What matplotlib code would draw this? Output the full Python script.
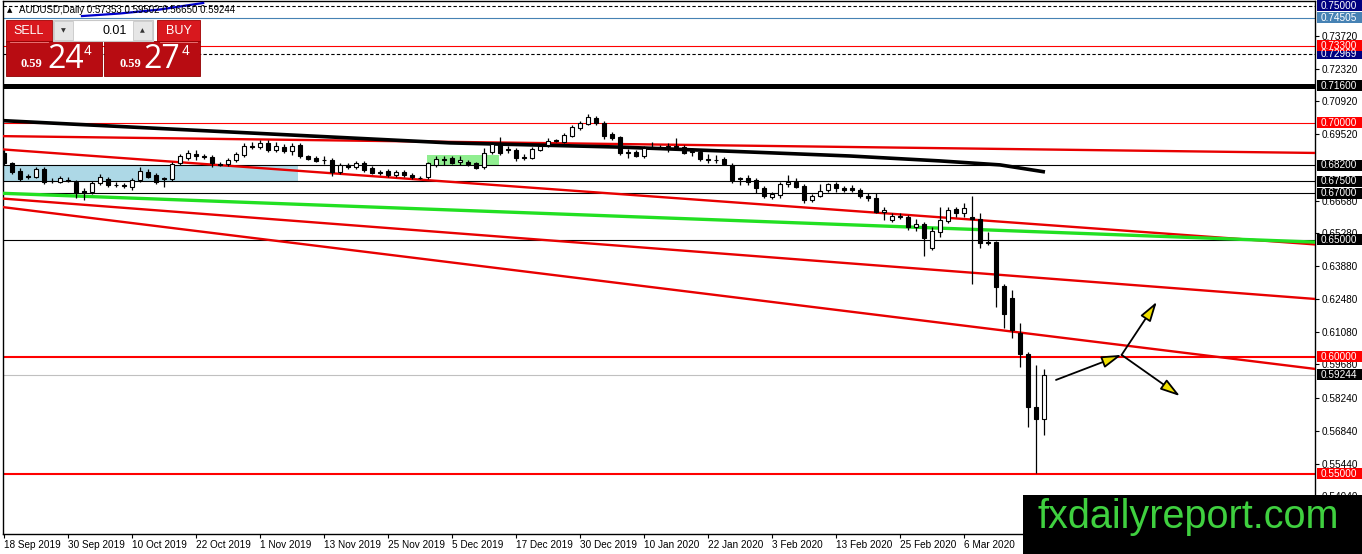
import matplotlib
matplotlib.use("Agg")
import matplotlib.pyplot as plt
from matplotlib.patches import Rectangle, FancyArrowPatch
from matplotlib.transforms import blended_transform_factory
import numpy as np

# ---------------- data ----------------
opens = [0.6871,0.6830,0.6796,0.6772,0.6771,0.6803,0.6754,0.6749,0.6758,0.6749,
         0.6711,0.6706,0.6742,0.6759,0.6737,0.6733,0.6725,0.6756,0.6792,0.6778,
         0.6763,0.6759,0.6828,0.6849,0.6868,0.6859,0.6853,0.6826,0.6824,0.6842,
         0.6863,0.6901,0.6896,0.6916,0.6885,0.6899,0.6882,0.6906,0.6857,0.6849,
         0.6844,0.6842,0.6790,0.6821,0.6811,0.6830,0.6807,0.6790,0.6795,0.6778,
         0.6792,0.6778,0.6767,0.6768,0.6821,0.6848,0.6849,0.6833,0.6835,0.6828,
         0.6811,0.6876,0.6906,0.6887,0.6885,0.6855,0.6852,0.6885,0.6906,0.6926,
         0.6920,0.6946,0.6977,0.6996,0.7020,0.6999,0.6953,0.6941,0.6875,0.6876,
         0.6857,0.6897,0.6898,0.6899,0.6901,0.6896,0.6879,0.6877,0.6847,0.6844,
         0.6846,0.6821,0.6763,0.6764,0.6756,0.6721,0.6682,0.6692,0.6739,0.6749,
         0.6731,0.6671,0.6688,0.6714,0.6739,0.6722,0.6721,0.6714,0.6689,0.6678,
         0.6618,0.6585,0.6604,0.6597,0.6557,0.6567,0.6465,0.6535,0.6581,0.6631,
         0.6614,0.6597,0.6589,0.6490,0.6490,0.6303,0.6251,0.6101,0.6013,0.5785,
         0.57353]
highs = [0.6885,0.6835,0.6808,0.6782,0.6812,0.6812,0.6765,0.6774,0.6769,0.6756,
         0.6722,0.6752,0.6782,0.6769,0.6748,0.6744,0.6765,0.6812,0.6803,0.6786,
         0.6771,0.6833,0.6868,0.6885,0.6885,0.6868,0.6863,0.6833,0.6850,0.6876,
         0.6915,0.6920,0.6927,0.6927,0.6920,0.6910,0.6913,0.6915,0.6863,0.6859,
         0.6857,0.6850,0.6829,0.6829,0.6839,0.6838,0.6816,0.6799,0.6803,0.6799,
         0.6799,0.6786,0.6774,0.6835,0.6859,0.6857,0.6859,0.6857,0.6842,0.6833,
         0.6892,0.6919,0.6939,0.6902,0.6893,0.6868,0.6897,0.6910,0.6935,0.6932,
         0.6957,0.6991,0.7009,0.7038,0.7030,0.7009,0.6962,0.6944,0.6888,0.6885,
         0.6902,0.6920,0.6906,0.6916,0.6935,0.6906,0.6892,0.6885,0.6868,0.6863,
         0.6855,0.6829,0.6768,0.6778,0.6765,0.6731,0.6705,0.6748,0.6778,0.6764,
         0.6739,0.6697,0.6739,0.6745,0.6748,0.6731,0.6735,0.6722,0.6702,0.6700,
         0.6642,0.6614,0.6614,0.6607,0.6588,0.6577,0.6557,0.6642,0.6642,0.6642,
         0.6659,0.6689,0.6614,0.6535,0.6496,0.6312,0.6286,0.6147,0.6023,0.5966,
         0.59502]
lows = [0.6821,0.6782,0.6752,0.6761,0.6765,0.6739,0.6744,0.6744,0.6748,0.6679,
        0.6671,0.6697,0.6735,0.6727,0.6727,0.6722,0.6714,0.6748,0.6765,0.6739,
        0.6725,0.6752,0.6821,0.6842,0.6842,0.6846,0.6812,0.6816,0.6816,0.6833,
        0.6855,0.6889,0.6889,0.6876,0.6876,0.6872,0.6863,0.6849,0.6842,0.6833,
        0.6825,0.6774,0.6782,0.6803,0.6803,0.6791,0.6782,0.6778,0.6769,0.6769,
        0.6769,0.6761,0.6759,0.6761,0.6812,0.6821,0.6825,0.6821,0.6816,0.6803,
        0.6803,0.6868,0.6863,0.6871,0.6839,0.6842,0.6846,0.6879,0.6896,0.6917,
        0.6915,0.6940,0.6970,0.6991,0.6991,0.6930,0.6927,0.6863,0.6849,0.6855,
        0.6850,0.6889,0.6889,0.6877,0.6892,0.6868,0.6857,0.6838,0.6828,0.6828,
        0.6821,0.6742,0.6735,0.6735,0.6702,0.6678,0.6675,0.6678,0.6728,0.6722,
        0.6659,0.6662,0.6684,0.6705,0.6706,0.6705,0.6705,0.6678,0.6668,0.6615,
        0.6585,0.6577,0.6588,0.6543,0.6540,0.6433,0.6457,0.6512,0.6574,0.6600,
        0.6600,0.6311,0.6465,0.6479,0.6212,0.6124,0.6080,0.5959,0.5700,0.5503,
        0.56650]
closes = [0.6828,0.6792,0.6761,0.6768,0.6803,0.6749,0.6750,0.6764,0.6754,0.6700,
          0.6702,0.6742,0.6771,0.6735,0.6733,0.6729,0.6756,0.6796,0.6771,0.6749,
          0.6759,0.6824,0.6857,0.6873,0.6857,0.6855,0.6828,0.6822,0.6842,0.6866,
          0.6902,0.6897,0.6916,0.6885,0.6902,0.6882,0.6902,0.6859,0.6847,0.6839,
          0.6840,0.6792,0.6821,0.6811,0.6828,0.6799,0.6788,0.6786,0.6778,0.6792,
          0.6778,0.6768,0.6763,0.6828,0.6845,0.6844,0.6830,0.6842,0.6824,0.6809,
          0.6873,0.6909,0.6871,0.6883,0.6849,0.6851,0.6888,0.6903,0.6924,0.6922,
          0.6949,0.6982,0.6999,0.7027,0.6999,0.6946,0.6935,0.6871,0.6871,0.6860,
          0.6892,0.6893,0.6894,0.6901,0.6897,0.6873,0.6875,0.6845,0.6843,0.6840,
          0.6825,0.6756,0.6759,0.6749,0.6721,0.6688,0.6695,0.6739,0.6749,0.6728,
          0.6671,0.6688,0.6711,0.6739,0.6721,0.6714,0.6714,0.6688,0.6678,0.6621,
          0.6628,0.6604,0.6600,0.6557,0.6568,0.6510,0.6538,0.6585,0.6628,0.6614,
          0.6635,0.6589,0.6488,0.6486,0.6300,0.6182,0.6115,0.6012,0.5785,0.5734,
          0.59244]

date_labels = ["18 Sep 2019", "30 Sep 2019", "10 Oct 2019", "22 Oct 2019", "1 Nov 2019",
               "13 Nov 2019", "25 Nov 2019", "5 Dec 2019", "17 Dec 2019", "30 Dec 2019",
               "10 Jan 2020", "22 Jan 2020", "3 Feb 2020", "13 Feb 2020", "25 Feb 2020",
               "6 Mar 2020"]
date_label_bars = [0, 8, 16, 24, 32, 40, 48, 56, 64, 72, 80, 88, 96, 104, 112, 120]

price_ticks = [0.73720, 0.72320, 0.70920, 0.69520, 0.66680, 0.65280,
               0.63880, 0.62480, 0.61080, 0.59680, 0.58240, 0.56840, 0.55440, 0.54040]

# horizontal levels: price, colour, width, style
level_prices = [0.75000, 0.74505, 0.73300, 0.72969, 0.71600, 0.70000, 0.68200,
                0.67500, 0.67000, 0.65000, 0.60000, 0.59244, 0.55000]
level_colors = ["black", "#4682B4", "#FF0000", "black", "black", "#FF0000", "black",
                "black", "black", "black", "#FF0000", "#C0C0C0", "#FF0000"]
level_widths = [0.8, 0.8, 0.8, 0.8, 3.6, 0.8, 0.8, 0.8, 0.8, 0.8, 1.5, 0.8, 1.5]
level_styles = ["--", "-", "-", "--", "-", "-", "-", "-", "-", "-", "-", "-", "-"]

# price labels on right scale
label_prices = [0.75000, 0.74505, 0.72969, 0.73300, 0.71600, 0.70000, 0.68200,
                0.67500, 0.67000, 0.65000, 0.60000, 0.59244, 0.55000]
label_colors = ["#000080", "#4682B4", "#000080", "#FF0000", "black", "#FF0000", "black",
                "black", "black", "black", "#FF0000", "black", "#FF0000"]

# trend lines (bar index, price)
ma_bars = [-0.1, 24.5, 55.75, 77.0, 93.25, 105.75, 117.0, 124.5, 129.9]
ma_prices = [0.7010, 0.6968, 0.6915, 0.6897, 0.6876, 0.6859, 0.6838, 0.6821, 0.6792]

trend_bars = [-0.5, 163.9]
red_upper = [0.6944, 0.6872]
red_middle = [0.6888, 0.6481]
green_line = [0.6700, 0.6491]
red_lower1 = [0.6678, 0.6248]
red_lower2 = [0.6642, 0.5949]

scribble_bars = [9.75, 14.5, 19.5, 24.9]
scribble_prices = [0.7457, 0.7468, 0.7485, 0.7513]

blue_zone = (-0.5, 36.75, 0.6750, 0.6820)
green_zone = (52.9, 61.9, 0.6821, 0.6863)

arrow_from = [(131.5, 0.5902), (139.7, 0.6009), (139.7, 0.6009)]
arrow_to = [(139.7, 0.6009), (144.1, 0.6236), (147.0, 0.5833)]

# ---------------- figure ----------------
W, H = 1362, 554
fig = plt.figure(figsize=(W / 100, H / 100), dpi=100)
fig.patch.set_facecolor("white")
ax = fig.add_axes([3 / W, 20 / H, 1312 / W, 533 / H])
ax.set_facecolor("white")
ax.set_xlim(-0.125, 163.875)
ymin = 0.752564 - 534 / 2340
ymax = 0.752564 - 1 / 2340
ax.set_ylim(ymin, ymax)

for s in ax.spines.values():
    s.set_color("black")
    s.set_linewidth(1.0)

# zones
ax.add_patch(Rectangle((blue_zone[0], blue_zone[2]), blue_zone[1] - blue_zone[0],
                       blue_zone[3] - blue_zone[2], facecolor="#ADD8E6", edgecolor="none", zorder=1))
ax.add_patch(Rectangle((green_zone[0], green_zone[2]), green_zone[1] - green_zone[0],
                       green_zone[3] - green_zone[2], facecolor="#90EE90", edgecolor="none", zorder=1))

# horizontal levels
for p, c, w, ls in zip(level_prices, level_colors, level_widths, level_styles):
    if ls == "--":
        ax.axhline(p, color=c, lw=w, dashes=(3, 2), zorder=2)
    else:
        ax.axhline(p, color=c, lw=w, zorder=2)

# trend lines
ax.plot(trend_bars, red_upper, color="#E80000", lw=1.7, zorder=3, solid_capstyle="butt")
ax.plot(ma_bars, ma_prices, color="black", lw=2.6, zorder=3)
ax.plot(trend_bars, red_middle, color="#E80000", lw=1.7, zorder=3)
ax.plot(trend_bars, green_line, color="#22E022", lw=2.4, zorder=3)
ax.plot(trend_bars, red_lower1, color="#E80000", lw=1.7, zorder=3)
ax.plot(trend_bars, red_lower2, color="#E80000", lw=1.7, zorder=3)
ax.plot(scribble_bars, scribble_prices, color="#0000CC", lw=1.6, zorder=3)

# candles
x = np.arange(len(opens))
o = np.array(opens); h = np.array(highs); l = np.array(lows); c = np.array(closes)
ax.vlines(x, l, h, color="black", lw=0.9, zorder=4)
up = c >= o
bottoms = np.minimum(o, c)
heights = np.maximum(np.abs(c - o), 0.00005)
ax.bar(x[up], heights[up], bottom=bottoms[up], width=0.62, facecolor="white",
       edgecolor="black", linewidth=0.8, zorder=5)
ax.bar(x[~up], heights[~up], bottom=bottoms[~up], width=0.62, facecolor="black",
       edgecolor="black", linewidth=0.8, zorder=5)

# arrows
for (x0, y0), (x1, y1) in zip(arrow_from, arrow_to):
    ax.add_patch(FancyArrowPatch((x0, y0), (x1, y1),
                                 arrowstyle="-|>,head_length=0.8,head_width=0.24",
                                 mutation_scale=15, facecolor="#F0E000", edgecolor="black",
                                 lw=1.3, zorder=6, shrinkA=0, shrinkB=0))

# axes ticks
ax.yaxis.tick_right()
ax.set_yticks(price_ticks)
ax.set_yticklabels(["%.5f" % t for t in price_ticks], fontsize=7.2, family="Liberation Sans")
ax.tick_params(axis="y", direction="out", length=3, pad=2, colors="black", width=0.8)
ax.set_xticks(date_label_bars)
ax.set_xticklabels(date_labels, fontsize=7.2, family="Liberation Sans", ha="left")
ax.tick_params(axis="x", direction="out", length=3, pad=1.5, width=0.8)

# coloured price labels
bt = blended_transform_factory(ax.transAxes, ax.transData)
box_h = 11 / 2340
for p, col in zip(label_prices, label_colors):
    ax.add_patch(Rectangle((1 + 2 / 1312, p - box_h / 2), 48 / 1312, box_h, transform=bt,
                           facecolor=col, edgecolor="none", clip_on=False, zorder=8))
    ax.text(1 + 6 / 1312, p, "%.5f" % p, transform=bt, color="white", fontsize=7.2,
            family="Liberation Sans", va="center", ha="left", clip_on=False, zorder=9)

# ---------------- overlay (pixel coordinates) ----------------
ov = fig.add_axes([0, 0, 1, 1], zorder=20)
ov.set_xlim(0, W)
ov.set_ylim(H, 0)
ov.axis("off")
ov.patch.set_alpha(0)

ov.text(10, 10, "\u25B2", fontsize=5, family="DejaVu Sans", va="center", ha="center", color="black")
ov.text(19, 10, "AUDUSD,Daily 0.57353 0.59502 0.56650 0.59244", fontsize=7,
        family="Liberation Sans", va="center", ha="left", color="black")

# trade panel
red_top = "#D8181E"
red_bot = "#B80C12"
ov.add_patch(Rectangle((6, 20), 46, 22, facecolor=red_top, edgecolor="#A00000", lw=0.6))
ov.add_patch(Rectangle((157, 20), 43, 22, facecolor=red_top, edgecolor="#A00000", lw=0.6))
ov.add_patch(Rectangle((6, 41), 96, 35, facecolor=red_bot, edgecolor="#900000", lw=0.6))
ov.add_patch(Rectangle((104, 41), 96, 35, facecolor=red_bot, edgecolor="#900000", lw=0.6))
ov.plot([10, 48], [41.5, 41.5], color="#F08080", lw=0.6)
ov.plot([160, 197], [41.5, 41.5], color="#F08080", lw=0.6)
ov.add_patch(Rectangle((53, 20), 100, 21, facecolor="white", edgecolor="#C8C8C8", lw=0.8))
ov.add_patch(Rectangle((54, 21), 19, 19, facecolor="#E6E6E6", edgecolor="#C8C8C8", lw=0.6))
ov.add_patch(Rectangle((133, 21), 19, 19, facecolor="#E6E6E6", edgecolor="#C8C8C8", lw=0.6))
ov.text(63.5, 30.5, "\u25BC", fontsize=4.5, family="DejaVu Sans", ha="center", va="center", color="#333333")
ov.text(142.5, 30.5, "\u25B2", fontsize=4.5, family="DejaVu Sans", ha="center", va="center", color="#333333")
ov.text(127, 30.5, "0.01", fontsize=9, family="Liberation Sans", ha="right", va="center", color="black")
ov.text(29, 31, "SELL", fontsize=9, family="Liberation Sans", ha="center", va="center", color="white")
ov.text(178.5, 31, "BUY", fontsize=9, family="Liberation Sans", ha="center", va="center", color="white")
ov.text(31, 64, "0.59", fontsize=9, family="Liberation Serif", weight="bold", ha="center", va="center", color="white")
ov.text(66, 60, "24", fontsize=23, family="Open Sans", ha="center", va="center", color="white")
ov.text(88, 51, "4", fontsize=10, family="Liberation Sans", ha="center", va="center", color="white")
ov.text(130, 64, "0.59", fontsize=9, family="Liberation Serif", weight="bold", ha="center", va="center", color="white")
ov.text(162, 60, "27", fontsize=23, family="Open Sans", ha="center", va="center", color="white")
ov.text(185, 51, "4", fontsize=10, family="Liberation Sans", ha="center", va="center", color="white")

# watermark
ov.add_patch(Rectangle((1023, 495), W - 1023, H - 495, facecolor="black", edgecolor="none"))
ov.text(1037, 528, "fxdailyreport.com", fontsize=28.5, family="Liberation Sans",
        color="#3FD03F", ha="left", va="baseline")

fig.savefig("out.png", dpi=100)
